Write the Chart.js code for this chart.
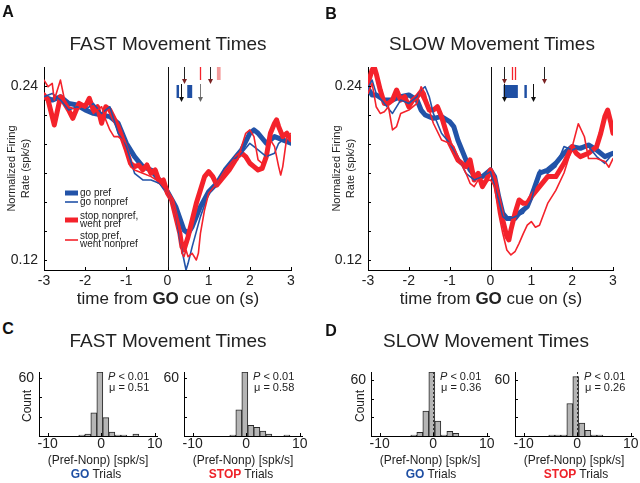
<!DOCTYPE html>
<html><head><meta charset="utf-8"><title>Firing rate figure</title>
<script src="https://cdn.jsdelivr.net/npm/chart.js@4.4.1/dist/chart.umd.min.js"></script>
<style>
html,body{margin:0;padding:0;background:#fff;}
#fig{position:relative;width:640px;height:483px;overflow:hidden;font-family:"Liberation Sans",Arial,Helvetica,sans-serif;color:#222;}
#fig canvas{position:absolute;}
.tx{position:absolute;white-space:nowrap;line-height:1;transform:translate(-50%,-50%);}
.lt{font-weight:bold;font-size:16px;color:#111;}
.ti{font-size:19px;}
.xl{font-size:17px;}
.hl{font-size:12px;}
.rot{transform:translate(-50%,-50%) rotate(-90deg);}
.go{color:#1f4fa3;font-weight:bold;}
.stop{color:#ee2229;font-weight:bold;}
</style></head><body><div id="fig">
<canvas id="cA" width="320" height="310" style="left:0;top:0"></canvas>
<canvas id="cB" width="320" height="310" style="left:320px;top:0"></canvas>
<canvas id="h1"></canvas><canvas id="h2"></canvas><canvas id="h3"></canvas><canvas id="h4"></canvas>
<div class="tx lt" style="left:8px;top:12px">A</div>
<div class="tx lt" style="left:331px;top:14px">B</div>
<div class="tx lt" style="left:8px;top:329px">C</div>
<div class="tx lt" style="left:331px;top:331px">D</div>
<div class="tx ti" style="left:168px;top:43px">FAST Movement Times</div>
<div class="tx ti" style="left:492px;top:43px">SLOW Movement Times</div>
<div class="tx xl" style="left:168px;top:298px">time from <b>GO</b> cue on (s)</div>
<div class="tx xl" style="left:491px;top:298px">time from <b>GO</b> cue on (s)</div>
<div class="tx ti" style="left:168px;top:340px">FAST Movement Times</div>
<div class="tx ti" style="left:486px;top:340px">SLOW Movement Times</div>
<div class="tx hl rot" style="left:27px;top:406px">Count</div>
<div class="tx hl rot" style="left:360px;top:406px">Count</div>
<div class="tx hl" style="left:98px;top:460px">(Pref-Nonp) [spk/s]</div>
<div class="tx hl" style="left:243px;top:460px">(Pref-Nonp) [spk/s]</div>
<div class="tx hl" style="left:430px;top:460px">(Pref-Nonp) [spk/s]</div>
<div class="tx hl" style="left:574px;top:460px">(Pref-Nonp) [spk/s]</div>
<div class="tx hl" style="left:96px;top:474px"><span class="go">GO</span> Trials</div>
<div class="tx hl" style="left:241px;top:474px"><span class="stop">STOP</span> Trials</div>
<div class="tx hl" style="left:431px;top:474px"><span class="go">GO</span> Trials</div>
<div class="tx hl" style="left:576px;top:474px"><span class="stop">STOP</span> Trials</div>
</div>
<script>
const F='"Liberation Sans", Arial, Helvetica, sans-serif';
Chart.defaults.font.family=F; Chart.defaults.color='#222';
const BLUE='#2253a8', RED='#f4222b';

// ---------- data ----------
const seriesNames=['go pref','go nonpref','stop nonpref, went pref','stop pref, went nonpref'];
const timeTicks=[-3,-2,-1,0,1,2,3];
const rateTicks=[0.12,0.14,0.16,0.18,0.20,0.22,0.24];
const rateTickLabels=['0.12','','','','','','0.24'];

// Panel A (FAST)
const A_goPref_t=[-3,-2.8,-2.6,-2.4,-2.2,-2,-1.8,-1.6,-1.4,-1.2,-1,-0.8,-0.6,-0.4,-0.2,0,0.2,0.4,0.5,0.6,0.8,1,1.2,1.4,1.6,1.8,2,2.1,2.2,2.4,2.6,2.8,3];
const A_goPref_v=[0.2326,0.2303,0.2326,0.228,0.2269,0.2235,0.2211,0.22,0.2189,0.2143,0.2005,0.1913,0.1844,0.1821,0.1752,0.1671,0.1568,0.1407,0.1384,0.143,0.1568,0.1671,0.1729,0.1821,0.189,0.1959,0.2074,0.2097,0.2074,0.2005,0.2051,0.2028,0.2005];
const A_goNon_t=[-3,-2.8,-2.6,-2.4,-2.2,-2,-1.8,-1.6,-1.4,-1.2,-1,-0.8,-0.6,-0.4,-0.2,0,0.2,0.3,0.4,0.45,0.5,0.6,0.8,1,1.2,1.4,1.6,1.8,2,2.1,2.2,2.4,2.6,2.7,2.8,3];
const A_goNon_v=[0.2326,0.2349,0.2303,0.2234,0.2257,0.2234,0.228,0.2211,0.2257,0.2074,0.1982,0.1798,0.1752,0.1752,0.1729,0.1671,0.1522,0.1338,0.12,0.1131,0.1177,0.1292,0.1499,0.166,0.1729,0.1821,0.189,0.1936,0.2005,0.1982,0.1959,0.1913,0.1936,0.2005,0.2028,0.2005];
const A_stopNon_t=[-3,-2.9,-2.75,-2.6,-2.5,-2.4,-2.3,-2.15,-2,-1.9,-1.8,-1.7,-1.6,-1.5,-1.4,-1.2,-1,-0.9,-0.8,-0.7,-0.6,-0.5,-0.4,-0.3,-0.2,-0.1,0,0.1,0.2,0.3,0.35,0.4,0.5,0.6,0.7,0.8,0.9,1,1.1,1.2,1.3,1.5,1.7,1.8,1.9,2,2.1,2.2,2.3,2.4,2.5,2.6,2.65,2.7,2.8,2.9,3];
const A_stopNon_v=[0.2338,0.2303,0.2131,0.2326,0.228,0.2234,0.2177,0.228,0.2257,0.2315,0.2234,0.2257,0.2143,0.2257,0.2234,0.212,0.1959,0.1867,0.1844,0.1855,0.1821,0.1855,0.1798,0.1821,0.174,0.1752,0.166,0.1614,0.1499,0.1384,0.1292,0.1269,0.1361,0.1476,0.1591,0.1683,0.1775,0.1809,0.1775,0.1717,0.1752,0.1821,0.1913,0.1936,0.1913,0.1867,0.1844,0.1821,0.1832,0.1913,0.2074,0.2143,0.2166,0.212,0.2051,0.2074,0.2028];
const A_stopPref_t=[-3,-2.9,-2.8,-2.75,-2.6,-2.5,-2.4,-2.2,-2,-1.9,-1.8,-1.6,-1.5,-1.4,-1.3,-1.2,-1.1,-1,-0.9,-0.8,-0.6,-0.4,-0.2,0,0.2,0.3,0.35,0.4,0.45,0.5,0.6,0.7,0.75,0.8,0.9,1,1.2,1.4,1.6,1.7,1.8,1.9,2,2.1,2.2,2.3,2.4,2.5,2.6,2.7,2.75,2.8,2.9,3];
const A_stopPref_v=[0.2441,0.2395,0.2418,0.2303,0.2441,0.2303,0.2257,0.2234,0.228,0.2303,0.2211,0.2257,0.2166,0.2097,0.2051,0.2051,0.2028,0.1936,0.1844,0.1821,0.1798,0.1775,0.174,0.1671,0.1522,0.1384,0.1246,0.1223,0.1269,0.1223,0.1246,0.12,0.1246,0.1384,0.1545,0.166,0.1729,0.1821,0.189,0.189,0.1982,0.2074,0.2097,0.2051,0.189,0.1867,0.1913,0.2028,0.1982,0.1844,0.1786,0.1844,0.2051,0.2074];

// Panel B (SLOW)
const B_goPref_t=[-3,-2.9,-2.8,-2.6,-2.4,-2.2,-2,-1.8,-1.7,-1.6,-1.4,-1.2,-1,-0.9,-0.8,-0.6,-0.5,-0.4,-0.2,0,0.1,0.2,0.3,0.4,0.6,0.7,0.9,1,1.2,1.4,1.6,1.8,2,2.2,2.4,2.6,2.8,3];
const B_goPref_v=[0.2384,0.2338,0.2338,0.2303,0.2303,0.2326,0.2338,0.2303,0.2234,0.22,0.2177,0.2189,0.2154,0.212,0.2028,0.189,0.1821,0.1786,0.1775,0.1821,0.1775,0.1637,0.1522,0.1487,0.1487,0.1522,0.1568,0.1637,0.1798,0.1821,0.1867,0.1936,0.1982,0.197,0.1993,0.1959,0.1913,0.1936];
const B_goNon_t=[-3,-2.9,-2.8,-2.6,-2.4,-2.2,-2,-1.8,-1.7,-1.6,-1.5,-1.4,-1.2,-1,-0.8,-0.6,-0.4,-0.2,0,0.2,0.3,0.4,0.6,0.8,1,1.2,1.4,1.6,1.8,2,2.2,2.4,2.6,2.8,3];
const B_goNon_v=[0.2384,0.2441,0.2349,0.228,0.2211,0.2303,0.228,0.2326,0.2372,0.2395,0.2326,0.2211,0.2074,0.2005,0.1913,0.1798,0.1752,0.1775,0.1809,0.1614,0.1499,0.1476,0.1499,0.1522,0.1614,0.1821,0.1798,0.1844,0.1982,0.1959,0.1982,0.1982,0.1913,0.1867,0.1936];
const B_stopNon_t=[-3,-2.9,-2.85,-2.8,-2.7,-2.6,-2.5,-2.4,-2.3,-2.2,-2.1,-2,-1.9,-1.8,-1.7,-1.6,-1.5,-1.4,-1.3,-1.2,-1.1,-1,-0.8,-0.6,-0.5,-0.4,-0.3,-0.2,-0.1,0,0.1,0.2,0.3,0.4,0.45,0.5,0.6,0.7,0.8,0.9,1,1.2,1.4,1.6,1.8,2,2.1,2.2,2.4,2.6,2.7,2.8,2.87,2.95,3];
const B_stopNon_v=[0.2418,0.251,0.2533,0.2487,0.2372,0.228,0.228,0.2303,0.2372,0.2303,0.2326,0.2257,0.2303,0.2326,0.2361,0.2303,0.2234,0.2234,0.2257,0.2189,0.2097,0.2005,0.189,0.1844,0.189,0.1752,0.1798,0.1706,0.1752,0.1821,0.1752,0.1614,0.1476,0.1361,0.1338,0.1407,0.1522,0.1614,0.1591,0.1591,0.1637,0.1706,0.1775,0.1775,0.1867,0.1982,0.1936,0.1913,0.1936,0.1982,0.2074,0.2189,0.2234,0.2143,0.2074];
const B_stopPref_t=[-3,-2.9,-2.8,-2.7,-2.6,-2.5,-2.4,-2.3,-2.2,-2,-1.8,-1.7,-1.6,-1.5,-1.4,-1.2,-1,-0.9,-0.8,-0.6,-0.5,-0.4,-0.3,-0.2,0,0.1,0.2,0.3,0.4,0.5,0.6,0.7,0.8,0.9,1,1.1,1.2,1.4,1.6,1.8,2,2.15,2.3,2.4,2.6,2.8,2.9,3];
const B_stopPref_v=[0.2349,0.2418,0.2257,0.2211,0.2223,0.2257,0.2097,0.212,0.2211,0.2234,0.228,0.2395,0.2349,0.2234,0.2143,0.2028,0.2005,0.1982,0.1913,0.1798,0.1729,0.1706,0.1752,0.174,0.1752,0.1706,0.1522,0.1384,0.1269,0.1235,0.1257,0.1315,0.138,0.144,0.1465,0.1426,0.144,0.159,0.168,0.18,0.198,0.214,0.205,0.19,0.19,0.188,0.184,0.19];

// event markers (times in s)
const A_row1Arrows=[0.41,1.04], A_redTicks=[0.78], A_pinkBands=[[1.2,1.29]], A_blueBands=[[0.22,0.28],[0.48,0.6]], A_row2Arrows=[0.34], A_row2Grey=[0.78];
const B_row1Arrows=[0.32,1.30], B_redTicks=[0.52,0.61], B_pinkBands=[], B_blueBands=[[0.32,0.67],[0.83,0.89]], B_row2Arrows=[0.32,1.04], B_row2Grey=[];

// histograms
const histBins=[-4.74,-3.62,-2.5,-1.38,-0.26,0.86,1.98,3.1,4.22,5.34,6.46,7.58];
const histC_go  =[0,1,2,24,66,19,4,1,1,0,2,0];
const histC_stop=[0,0,1,27,66,11,9,5,2,0,0,1];
const histD_go  =[0,1,4,27,69,16,1,5,3,0,0,0];
const histD_stop=[1,1,1,35,64,14,6,1,1,0,0,0];
const histXTicks=[-10,0,10];
const histYTicks=[0,20,40,60];
const histYLabels=['','','','60'];
const muValues=['0.51','0.58','0.36','0.26'];

// ---------- helpers / plugins ----------
const pts=(t,v)=>t.map((x,i)=>({x:x,y:v[i]}));
const inward={id:'inward',afterDraw(ch){const {ctx,chartArea:a,scales}=ch;ctx.save();ctx.strokeStyle='#000';ctx.lineWidth=1;
  scales.x.ticks.forEach(t=>{const p=Math.round(scales.x.getPixelForValue(t.value))+0.5;ctx.beginPath();ctx.moveTo(p,a.bottom);ctx.lineTo(p,a.bottom-3);ctx.stroke();});
  scales.y.ticks.forEach(t=>{const p=Math.round(scales.y.getPixelForValue(t.value))+0.5;ctx.beginPath();ctx.moveTo(a.left,p);ctx.lineTo(a.left+3,p);ctx.stroke();});
  ctx.restore();}};
const zline={id:'zline',beforeDatasetsDraw(ch){const {ctx,chartArea:a,scales:{x}}=ch;const p=Math.round(x.getPixelForValue(0))+0.5;ctx.save();ctx.strokeStyle='#111';ctx.lineWidth=1;ctx.beginPath();ctx.moveTo(p,a.top);ctx.lineTo(p,a.bottom);ctx.stroke();ctx.restore();}};
const marks={id:'marks',afterDatasetsDraw(ch,args,o){const {ctx,chartArea:a,scales:{x}}=ch;const T=a.top;ctx.save();
  const px=t=>Math.round(x.getPixelForValue(t))+0.5;
  const arrow=(t,y0,y1,lc,hc)=>{const p=px(t);ctx.strokeStyle=lc;ctx.lineWidth=1;ctx.beginPath();ctx.moveTo(p,y0);ctx.lineTo(p,y1-3);ctx.stroke();ctx.fillStyle=hc;ctx.beginPath();ctx.moveTo(p-2.5,y1-5);ctx.lineTo(p+2.5,y1-5);ctx.lineTo(p,y1);ctx.closePath();ctx.fill();};
  const band=(b,y,h,c)=>{const x0=x.getPixelForValue(b[0]),x1=x.getPixelForValue(b[1]);ctx.fillStyle=c;ctx.fillRect(x0,y,Math.max(x1-x0,2),h);};
  (o.pinkBands||[]).forEach(b=>band(b,T,13,'#f39a9a'));
  (o.redTicks||[]).forEach(t=>{const p=px(t);ctx.strokeStyle=RED;ctx.lineWidth=1.3;ctx.beginPath();ctx.moveTo(p,T);ctx.lineTo(p,T+13);ctx.stroke();});
  (o.row1Arrows||[]).forEach(t=>arrow(t,T,T+17,'#222','#7a2222'));
  (o.blueBands||[]).forEach(b=>band(b,T+18,13,'#1f4fa3'));
  (o.row2Arrows||[]).forEach(t=>arrow(t,T+17,T+35,'#111','#111'));
  (o.row2Grey||[]).forEach(t=>arrow(t,T+17,T+35,'#777','#666'));
  ctx.restore();}};
const legendA={id:'legendA',afterDatasetsDraw(ch){const ctx=ch.ctx;ctx.save();ctx.font='10px '+F;ctx.fillStyle='#222';ctx.textBaseline='middle';
  const sty=[[BLUE,5],[BLUE,1.6],[RED,5],[RED,1.6]];const yc=[193,202,220,240];
  seriesNames.forEach((n,i)=>{ctx.strokeStyle=sty[i][0];ctx.lineWidth=sty[i][1];ctx.beginPath();ctx.moveTo(65,yc[i]);ctx.lineTo(78,yc[i]);ctx.stroke();
    const parts=n.indexOf(', ')>0?[n.split(', ')[0]+',',n.split(', ')[1]]:[n];
    parts.forEach((s,k)=>ctx.fillText(s,80,yc[i]+(parts.length>1?(k?4:-4):0)));});
  ctx.restore();}};

function lineChart(id,ds,titlePad,yW,rightPad,mk,extra){
  return new Chart(document.getElementById(id),{type:'line',
    data:{datasets:[
      {label:seriesNames[3],data:ds[3],borderColor:RED,borderWidth:1.6},
      {label:seriesNames[1],data:ds[1],borderColor:BLUE,borderWidth:1.6},
      {label:seriesNames[2],data:ds[2],borderColor:RED,borderWidth:5},
      {label:seriesNames[0],data:ds[0],borderColor:BLUE,borderWidth:5}]},
    options:{responsive:false,animation:false,
      layout:{padding:{top:67,right:rightPad,left:0,bottom:0}},
      elements:{point:{radius:0},line:{tension:0,borderJoinStyle:'round',borderCapStyle:'round',fill:false}},
      plugins:{legend:{display:false},tooltip:{enabled:false},marks:mk},
      scales:{
        x:{type:'linear',min:-3,max:3,afterFit(s){s.height=40;},afterBuildTicks(s){s.ticks=timeTicks.map(v=>({value:v}));},
           grid:{display:false,drawTicks:false},border:{display:true,color:'#000',width:1},
           ticks:{padding:3,color:'#222',font:{size:14},maxRotation:0,callback:v=>String(v)}},
        y:{min:0.1131,max:0.2531,afterFit(s){s.width=yW;},afterBuildTicks(s){s.ticks=rateTicks.map(v=>({value:v}));},
           grid:{display:false,drawTicks:false},border:{display:true,color:'#000',width:1},
           ticks:{padding:6,color:'#222',font:{size:14},callback:(v,i)=>rateTickLabels[i]},
           title:{display:true,text:['Normalized Firing','Rate (spk/s)'],color:'#222',font:{size:11,lineHeight:1.36},padding:{top:titlePad,bottom:0}}}}},
    plugins:[zline,inward,marks].concat(extra)});
}
lineChart('cA',[pts(A_goPref_t,A_goPref_v),pts(A_goNon_t,A_goNon_v),pts(A_stopNon_t,A_stopNon_v),pts(A_stopPref_t,A_stopPref_v)],4,44,29,
  {row1Arrows:A_row1Arrows,redTicks:A_redTicks,pinkBands:A_pinkBands,blueBands:A_blueBands,row2Arrows:A_row2Arrows,row2Grey:A_row2Grey},[legendA]);
lineChart('cB',[pts(B_goPref_t,B_goPref_v),pts(B_goNon_t,B_goNon_v),pts(B_stopNon_t,B_stopNon_v),pts(B_stopPref_t,B_stopPref_v)],9,48,27,
  {row1Arrows:B_row1Arrows,redTicks:B_redTicks,pinkBands:B_pinkBands,blueBands:B_blueBands,row2Arrows:B_row2Arrows,row2Grey:B_row2Grey},[]);

const anno={id:'anno',afterDatasetsDraw(ch,args,o){const {ctx,chartArea:a,scales:{x}}=ch;ctx.save();ctx.fillStyle='#222';ctx.textBaseline='middle';
  if(o.dash){const p=Math.round(x.getPixelForValue(0))+0.5;ctx.strokeStyle='#333';ctx.lineWidth=1;ctx.setLineDash([2,2]);ctx.beginPath();ctx.moveTo(p,a.top);ctx.lineTo(p,a.bottom);ctx.stroke();ctx.setLineDash([]);}
  const x0=a.left+69;ctx.font='italic 11px '+F;ctx.fillText('P',x0,a.top+5);const w=ctx.measureText('P').width;
  ctx.font='11px '+F;ctx.fillText(' < 0.01',x0+w,a.top+5);ctx.fillText('\u03bc = '+o.mu,x0+1,a.top+16);ctx.restore();}};
function hist(id,counts,yMax,mu,L,R,T,B,dash){
  const cv=document.getElementById(id);const cl=L-45,cw=R-L+55,ct=340,chh=120;
  cv.style.left=cl+'px';cv.style.top=ct+'px';cv.width=cw;cv.height=chh;
  return new Chart(cv,{type:'bar',
    data:{datasets:[{data:histBins.map((b,i)=>({x:b,y:counts[i]})),backgroundColor:'#b5b5b5',borderColor:'#2a2a2a',borderWidth:1,barPercentage:1,categoryPercentage:1}]},
    options:{responsive:false,animation:false,layout:{padding:{top:T-ct,right:10,left:0,bottom:0}},
      plugins:{legend:{display:false},tooltip:{enabled:false},anno:{mu:mu,dash:dash}},
      scales:{
        x:{type:'linear',min:-11.6,max:10.4,offset:false,afterFit(s){s.height=ct+chh-B;},afterBuildTicks(s){s.ticks=histXTicks.map(v=>({value:v}));},
           grid:{display:false,drawTicks:false},border:{display:true,color:'#000'},ticks:{padding:0,color:'#222',font:{size:14},maxRotation:0,callback:v=>String(v)}},
        y:{min:0,max:yMax,afterFit(s){s.width=45;},afterBuildTicks(s){s.ticks=histYTicks.map(v=>({value:v}));},
           grid:{display:false,drawTicks:false},border:{display:true,color:'#000'},ticks:{padding:5,color:'#222',font:{size:14},callback:(v,i)=>histYLabels[i]}}}},
    plugins:[inward,anno]});
}
hist('h1',histC_go,66,muValues[0],39,157,372,436,false);
hist('h2',histC_stop,66,muValues[1],184,302,372,436,false);
hist('h3',histD_go,69,muValues[2],371,489,372,436,true);
hist('h4',histD_stop,69,muValues[3],515,633,372,436,true);
</script></body></html>
